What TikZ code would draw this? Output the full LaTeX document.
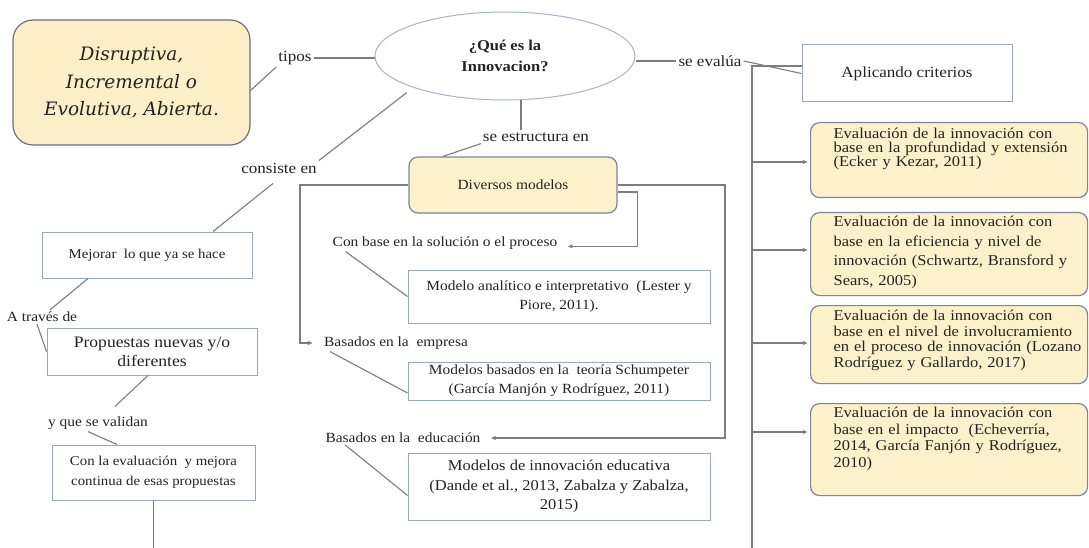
\documentclass[tikz,border=0pt]{standalone}
\usepackage{fontspec}
\setmainfont{Liberation Serif}[FakeStretch=1.1]
\newfontfamily\disfont{DejaVu Serif}
\usetikzlibrary{arrows.meta,shapes.geometric}
\definecolor{linec}{RGB}{125,125,125}
\definecolor{wbord}{RGB}{150,168,192}
\definecolor{ybord}{RGB}{120,135,155}
\definecolor{yfill}{RGB}{253,241,203}
\definecolor{disbord}{RGB}{105,115,130}
\definecolor{disfill}{RGB}{252,238,198}
\definecolor{ellbord}{RGB}{165,180,200}
\definecolor{txtc}{RGB}{35,35,35}
\begin{document}
\begin{tikzpicture}[x=1pt,y=-1pt,
  every node/.style={text=txtc},
  lnk/.style={draw=linec, line width=1.1pt},
  arr/.style={lnk, -{Latex[length=5pt,width=4.5pt]}},
  wbox/.style={draw=wbord, line width=1pt, fill=white, inner sep=0pt, align=center},
  ybox/.style={draw=ybord, line width=1.2pt, fill=yfill, rounded corners=9pt, inner ysep=0pt, inner xsep=23pt, text width=231pt, align=left, anchor=north west},
  lab/.style={inner sep=2pt, font=\fontsize{15.5}{18}\selectfont},
  slab/.style={inner sep=2pt, font=\fontsize{14}{17}\selectfont},
]
\fill[white] (0,0) rectangle (1089,548);
\useasboundingbox (0,0) rectangle (1089,548);

% top
\node[draw=disbord, line width=1.2pt, fill=disfill, rounded corners=20pt, minimum width=237pt, minimum height=125pt, inner sep=0pt, align=center, font=\disfont\itshape\fontsize{18.5}{27.5}\selectfont] (dis) at (131.5,82.5) {Disruptiva,\\ Incremental o\\ Evolutiva, Abierta.};
\node[ellipse, draw=ellbord, line width=1pt, fill=white, minimum width=260pt, minimum height=88pt, inner sep=0pt, align=center, font=\bfseries\fontsize{15}{21}\selectfont] (q) at (505,56) {¿Qué es la\\ Innovacion?};
\node[lab] (tip) at (295,58) {tipos};
\node[lab] (sev) at (710,61) {se evalúa};
\node[lab] (cons) at (279,168) {consiste en};
\node[lab] (sest) at (536,137) {se estructura en};
\node[wbox, minimum width=210pt, minimum height=57pt, font=\fontsize{15.5}{18}\selectfont] (apl) at (907,73.5) {Aplicando criterios};

% right column
\node[ybox, text height=16pt, text depth=59pt, font=\fontsize{15}{14}\selectfont] (e1) at (810,122) {\mbox{Evaluación de la innovación con}\\ \mbox{base en la profundidad y extensión}\\ \mbox{(Ecker y Kezar, 2011)}};
\node[ybox, text height=14pt, text depth=69pt, font=\fontsize{15}{19.5}\selectfont] (e2) at (810,212) {\mbox{Evaluación de la innovación con}\\ \mbox{base en la eficiencia y nivel de}\\ \mbox{innovación (Schwartz, Bransford y}\\ \mbox{Sears, 2005)}};
\node[ybox, text height=15pt, text depth=63pt, font=\fontsize{15}{15.5}\selectfont] (e3) at (810,305) {\mbox{Evaluación de la innovación con}\\ \mbox{base en el nivel de involucramiento}\\ \mbox{en el proceso de innovación (Lozano}\\ \mbox{Rodríguez y Gallardo, 2017)}};
\node[ybox, text height=14pt, text depth=78pt, font=\fontsize{15}{16.5}\selectfont] (e4) at (810,403) {\mbox{Evaluación de la innovación con}\\ \mbox{base en el impacto\ \ (Echeverría,}\\ \mbox{2014, García Fanjón y Rodríguez,}\\ \mbox{2010)}};

% middle column
\node[draw=ybord, line width=1.2pt, fill=yfill, rounded corners=9pt, minimum width=208pt, minimum height=56pt, inner sep=0pt, font=\fontsize{14}{17}\selectfont] (div) at (513,185) {Diversos modelos};
\node[slab] (cbs) at (445,243) {Con base en la solución o el proceso};
\node[wbox, minimum width=302pt, minimum height=53pt, font=\fontsize{14}{19}\selectfont] (anl) at (559,296.5) {Modelo analítico e interpretativo\ \ (Lester y\\ Piore, 2011).};
\node[slab] (bem) at (396,343) {Basados en la\ \ empresa};
\node[wbox, minimum width=302pt, minimum height=38pt, font=\fontsize{14}{19}\selectfont] (sch) at (559,381) {Modelos basados en la\ \ teoría Schumpeter\\ (García Manjón y Rodríguez, 2011)};
\node[slab] (bed) at (403,438) {Basados en la\ \ educación};
\node[wbox, minimum width=302pt, minimum height=67pt, font=\fontsize{15}{19.5}\selectfont] (edu) at (559,486.5) {Modelos de innovación educativa\\ (Dande et al., 2013, Zabalza y Zabalza,\\ 2015)};

% left column
\node[wbox, minimum width=210pt, minimum height=46pt, font=\fontsize{13.5}{16}\selectfont] (mej) at (147,255) {Mejorar\ \ lo que ya se hace};
\node[slab] (atr) at (42,317) {A través de};
\node[wbox, minimum width=210pt, minimum height=47pt, font=\fontsize{16}{19}\selectfont] (prop) at (152,351.5) {Propuestas nuevas y/o\\ diferentes};
\node[slab] (yqv) at (98,423) {y que se validan};
\node[wbox, minimum width=203pt, minimum height=55pt, font=\fontsize{13.5}{20}\selectfont] (conb) at (153.5,472.5) {Con la evaluación\ \ y mejora\\ continua de esas propuestas};

% coordinates
\coordinate (cbot) at (153.5,548);
\coordinate (lx) at (300,0);
\coordinate (rx) at (725,0);
\coordinate (tbot) at (752,548);
\coordinate (ttop) at (752,66);
\coordinate (t1) at (752,162);
\coordinate (t2) at (752,250);
\coordinate (t3) at (752,343);
\coordinate (t4) at (752,432);

% connectors top
\draw[lnk] (tip.east) -- (tip.east -| q.west);
\draw[lnk] (tip.south west) -- ([yshift=-8pt]dis.east);
\draw[lnk] (sev.west -| q.east) -- (sev.west);
\draw[lnk] (sev.east) -- (apl.west);
\draw[lnk, shorten <=8pt] (q.199) -- (cons.north east);
\draw[lnk] ([xshift=16pt]q.south) -- ([xshift=-15pt]sest.north);
\draw[lnk] (sest.south west) -- ([xshift=-70pt]div.north);

% left
\draw[lnk] ([shift={(-6pt,-8pt)}]cons.south) -- ([xshift=66pt]mej.north);
\draw[lnk] ([xshift=-59pt]mej.south) -- ([xshift=8pt]atr.north);
\draw[lnk] ([xshift=-5pt]atr.south) -- (prop.west);
\draw[lnk] ([xshift=-4pt]prop.south) -- ([shift={(17pt,8pt)}]yqv.north);
\draw[lnk] ([xshift=-10pt]yqv.south) -- ([xshift=-36.5pt]conb.north);
\draw[lnk] (conb.south) -- (cbot);

% middle
\draw[arr, shorten >=9pt] (div.west) -- (div.west -| lx) |- (bem.west);
\draw[arr, shorten >=8pt] (div.east) -- (div.east -| rx) |- (bed.east);
\draw[arr, shorten >=8pt] ([yshift=-7pt]div.east) -- ++(20,0) |- (cbs.base east);
\draw[lnk] ([xshift=15pt]cbs.south west) -- (anl.west);
\draw[lnk] ([xshift=8pt]bem.south west) -- ([yshift=-12pt]sch.west);
\draw[lnk] ([xshift=22pt]bed.south west) -- ([yshift=-9pt]edu.west);

% right trunk
\draw[lnk] (tbot) -- (ttop) -- (ttop -| apl.west);
\draw[arr, shorten >=2pt] (t1) -- (t1 -| e1.west);
\draw[arr, shorten >=2pt] (t2) -- (t2 -| e2.west);
\draw[arr, shorten >=2pt] (t3) -- (t3 -| e3.west);
\draw[arr, shorten >=2pt] (t4) -- (t4 -| e4.west);
\end{tikzpicture}
\end{document}
